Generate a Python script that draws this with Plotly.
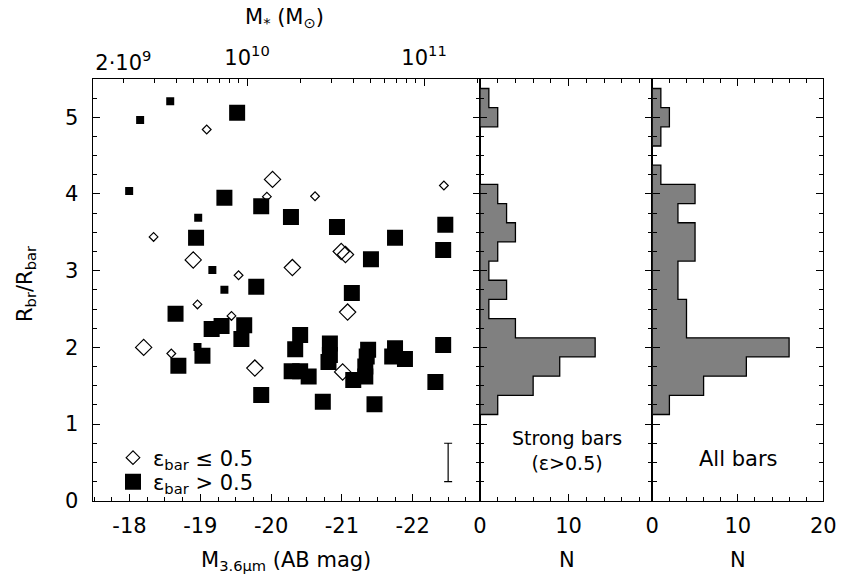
import plotly.graph_objects as go

# ---------------- data ----------------
# strong bars (eps > 0.5): filled squares; size class S/L
strong_mag = [-18.575, -18.15, -17.995, -18.97, -19.17, -19.34, -18.96,
              -19.52, -19.34, -19.86, -20.28, -18.94, -20.93, -21.75, -22.46, -22.43,
              -21.41, -19.79, -21.14, -18.65, -19.16, -19.30, -19.62, -19.58, -19.03,
              -18.69, -19.86, -20.41, -20.34, -20.29, -20.41, -20.53, -20.83, -20.83,
              -20.81, -20.73, -21.37, -21.35, -21.33, -21.16, -21.33, -21.46, -21.75,
              -21.71, -21.89, -22.43, -22.32]
strong_ratio = [5.21, 4.965, 4.04, 3.69, 3.01, 2.75, 2.005,
                5.06, 3.95, 3.84, 3.70, 3.43, 3.57, 3.43, 3.60, 3.27,
                3.15, 2.79, 2.71, 2.44, 2.24, 2.28, 2.29, 2.11, 1.89,
                1.76, 1.38, 2.16, 1.975, 1.69, 1.69, 1.62, 2.05, 1.90,
                1.81, 1.29, 1.97, 1.88, 1.75, 1.575, 1.62, 1.26, 1.99,
                1.88, 1.85, 2.03, 1.55]
strong_cls = ["S"] * 7 + ["L"] * 40

# weak bars (eps <= 0.5): open diamonds
weak_mag = [-19.09, -19.94, -18.34, -19.54, -20.62, -22.44, -18.96, -19.44, -18.59,
            -20.02, -18.90, -20.30, -20.99, -21.05, -18.20, -19.77, -21.08, -21.01]
weak_ratio = [4.84, 3.965, 3.44, 2.94, 3.97, 4.11, 2.56, 2.41, 1.92,
              4.19, 3.14, 3.04, 3.25, 3.21, 2.0, 1.73, 2.46, 1.68]
weak_cls = ["S"] * 9 + ["L"] * 9

# typical error bar
err_mag = [-22.5]
err_ratio = [0.5]
err_size = [0.25]

# histograms (bin centres, width 0.25)
bin_centers = [1.25, 1.5, 1.75, 2.0, 2.25, 2.5, 2.75, 3.0, 3.25, 3.5,
               3.75, 4.0, 4.25, 4.5, 4.75, 5.0, 5.25]
bin_width = 0.25
strong_counts = [2, 6, 9, 13, 4, 1, 3, 1, 2, 4, 3, 2, 0, 0, 0, 2, 1]
all_counts = [2, 6, 11, 16, 4, 4, 3, 3, 5, 5, 3, 5, 1, 0, 1, 2, 1]

# top-axis mass ticks
mass_ticks = [1e10, 1e11]
mass_ticktext = ["10<sup>10</sup>", "10<sup>11</sup>"]
mass_label_only = [2e9]
mass_label_only_text = ["2·10<sup>9</sup>"]
mass_minor = [2e9, 3e9, 4e9, 5e9, 6e9, 7e9, 8e9, 9e9,
              2e10, 3e10, 4e10, 5e10, 6e10, 7e10, 8e10, 9e10, 2e11]

# ---------------- layout constants ----------------
W, H = 841, 574
FONT = "DejaVu Sans, Liberation Sans, Arial, sans-serif"
FS = 21

def px(x):
    return x / W

def py(y):
    return 1 - y / H

sq_size = {"S": 8, "L": 16}
di_size = {"S": 6.7, "L": 12.5}

fig = go.Figure()

# diamonds first
fig.add_trace(go.Scatter(
    x=weak_mag, y=weak_ratio, mode="markers", showlegend=False,
    marker=dict(symbol="diamond-open", size=[di_size[c] for c in weak_cls],
                color="black", opacity=1, line=dict(width=1.2, color="black")),
    xaxis="x", yaxis="y"))
fig.add_trace(go.Scatter(
    x=strong_mag, y=strong_ratio, mode="markers", showlegend=False,
    marker=dict(symbol="square", size=[sq_size[c] for c in strong_cls],
                color="black", opacity=1, line=dict(width=0)),
    xaxis="x", yaxis="y"))

# legend-only entries (two legends so each row can be placed exactly)
fig.add_trace(go.Scatter(
    x=[None], y=[None], mode="markers", name="ε<sub>bar</sub> ≤ 0.5",
    marker=dict(symbol="diamond-open", size=10.5, color="black", opacity=1,
                line=dict(width=1.2, color="black")),
    xaxis="x", yaxis="y", legend="legend"))
fig.add_trace(go.Scatter(
    x=[None], y=[None], mode="markers", name="ε<sub>bar</sub> > 0.5",
    marker=dict(symbol="square", size=16, color="black", opacity=1),
    xaxis="x", yaxis="y", legend="legend2"))

# error bar
fig.add_trace(go.Scatter(
    x=err_mag, y=err_ratio, mode="markers", showlegend=False,
    marker=dict(size=0.1, color="rgba(0,0,0,0)"),
    error_y=dict(type="data", array=err_size, visible=True, width=4,
                 thickness=1.2, color="black"),
    xaxis="x", yaxis="y"))

# invisible traces to activate top (mass) axes
fig.add_trace(go.Scatter(x=[1e10], y=[None], mode="markers", showlegend=False,
                         xaxis="x4", yaxis="y", hoverinfo="skip"))
fig.add_trace(go.Scatter(x=[1e10], y=[None], mode="markers", showlegend=False,
                         xaxis="x5", yaxis="y", hoverinfo="skip"))


def step_path(counts):
    xs, ys = [0], [bin_centers[0] - bin_width / 2]
    for c, n in zip(bin_centers, counts):
        xs += [n, n]
        ys += [c - bin_width / 2, c + bin_width / 2]
    xs.append(0)
    ys.append(bin_centers[-1] + bin_width / 2)
    xs.append(0)
    ys.append(bin_centers[0] - bin_width / 2)
    return xs, ys


for counts, xa, ya in [(strong_counts, "x2", "y2"), (all_counts, "x3", "y3")]:
    xs, ys = step_path(counts)
    fig.add_trace(go.Scatter(
        x=xs, y=ys, mode="lines", fill="toself", fillcolor="#808080",
        line=dict(color="black", width=1.3, shape="linear"),
        showlegend=False, xaxis=xa, yaxis=ya))

# ---------------- axes ----------------
ydom = [py(500.8), py(78.9)]
x1dom = [px(92.7), px(480)]
x2dom = [px(480), px(652.3)]
x3dom = [px(652.3), px(823.3)]

common = dict(showline=True, linecolor="black", linewidth=1.4, ticks="inside",
              tickcolor="black", tickwidth=1.2, ticklen=7, showgrid=False,
              zeroline=False, tickfont=dict(family=FONT, size=FS, color="black"))
minor_y = dict(ticks="inside", ticklen=4, dtick=0.25, tickcolor="black",
               tickwidth=1.2, showgrid=False)

fig.update_layout(
    xaxis=dict(domain=x1dom, range=[-17.48, -22.95], anchor="y",
               tickmode="array", tickvals=[-18, -19, -20, -21, -22],
               ticktext=["-18", "-19", "-20", "-21", "-22"], mirror=True,
               minor=dict(ticks="inside", ticklen=4, dtick=0.25, tickcolor="black",
                          tickwidth=1.2, showgrid=False),
               ticklabelstandoff=6, **common),
    xaxis4=dict(overlaying="x", side="top", type="log", anchor="y",
                range=[9.128, 11.316], tickmode="array", tickvals=mass_ticks,
                ticktext=mass_ticktext,
                minor=dict(ticks="inside", ticklen=4, tickvals=mass_minor,
                           tickcolor="black", tickwidth=1.2, showgrid=False),
                ticklabelstandoff=4, **common),
    xaxis5=dict(overlaying="x", side="top", type="log", anchor="y",
                range=[9.128, 11.316], tickmode="array", tickvals=mass_label_only,
                ticktext=mass_label_only_text, ticks="", showline=False,
                showgrid=False, zeroline=False, ticklabelstandoff=4,
                tickfont=dict(family=FONT, size=FS, color="black")),
    yaxis=dict(domain=ydom, range=[0, 5.5], anchor="x", dtick=1, tick0=0,
               mirror="ticks", minor=minor_y, ticklabelstandoff=9, **common),
    xaxis2=dict(domain=x2dom, range=[0, 19.45], anchor="y2", tickmode="array",
                tickvals=[0, 10], mirror="ticks",
                minor=dict(ticks="inside", ticklen=4, dtick=2, tickcolor="black",
                           tickwidth=1.2, showgrid=False),
                ticklabelstandoff=6, **common),
    yaxis2=dict(domain=ydom, range=[0, 5.5], anchor="x2", dtick=1, tick0=0,
                mirror="ticks", showticklabels=False, minor=minor_y, **common),
    xaxis3=dict(domain=x3dom, range=[0, 20], anchor="y3", tickmode="array",
                tickvals=[0, 10, 20], mirror="ticks",
                minor=dict(ticks="inside", ticklen=4, dtick=2, tickcolor="black",
                           tickwidth=1.2, showgrid=False),
                ticklabelstandoff=6, **common),
    yaxis3=dict(domain=ydom, range=[0, 5.5], anchor="x3", dtick=1, tick0=0,
                mirror="ticks", showticklabels=False, minor=minor_y, **common),
)

afont = dict(family=FONT, size=FS, color="black")
annotations = [
    dict(text="M<sub>3.6μm</sub> (AB mag)", x=px(286), y=py(561)),
    dict(text="M<sub>*</sub> (M<sub>⊙</sub>)", x=px(284), y=py(18)),
    dict(text="R<sub>br</sub>/R<sub>bar</sub>", x=px(26), y=py(284), textangle=-90),
    dict(text="N", x=px(566.5), y=py(560)),
    dict(text="N", x=px(738), y=py(560)),
    dict(text="Strong bars<br>(ε>0.5)", x=px(566.5), y=py(450),
         font=dict(family=FONT, size=19, color="black")),
    dict(text="All bars", x=px(738), y=py(459)),
]
for a in annotations:
    a.setdefault("font", afont)
    a.update(xref="paper", yref="paper", showarrow=False, xanchor="center",
             yanchor="middle")

leg_common = dict(xanchor="left", yanchor="middle", bgcolor="rgba(0,0,0,0)",
                  borderwidth=0, font=dict(family=FONT, size=FS, color="black"),
                  itemsizing="trace")
fig.update_layout(
    width=W, height=H, margin=dict(l=0, r=0, t=0, b=0, autoexpand=False),
    paper_bgcolor="white", plot_bgcolor="rgba(0,0,0,0)",
    font=dict(family=FONT, size=FS, color="black"),
    annotations=annotations,
    showlegend=True,
    legend=dict(x=px(113), y=py(458), **leg_common),
    legend2=dict(x=px(113), y=py(482), **leg_common),
)

fig.write_html("out.html")
